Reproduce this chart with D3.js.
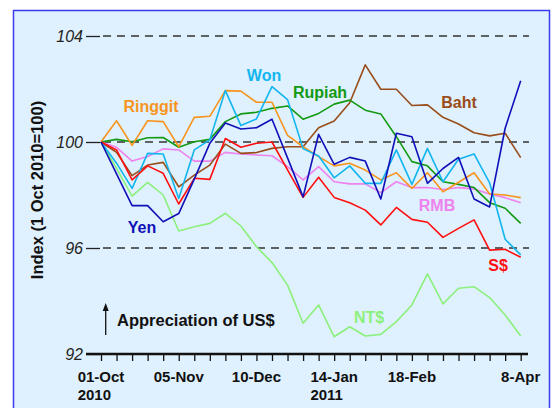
<!DOCTYPE html>
<html>
<head>
<meta charset="utf-8">
<script src="https://cdn.jsdelivr.net/npm/d3@7"></script>
<style>
  body { margin: 0; background: #fff; }
  svg { display: block; font-family: Arial, "Liberation Sans", sans-serif; }
</style>
</head>
<body>
<div id="chart"></div>
<script>
// weekly index, 01-Oct 2010 .. 8-Apr 2011 (28 weeks)
var weeks = d3.range(28);
var xLabels = [[0, '01-Oct', '2010'], [5, '05-Nov'], [10, '10-Dec'], [15, '14-Jan', '2011'], [20, '18-Feb'], [27, '8-Apr']];
var yTicks = [92, 96, 100, 104];

var ringgit = [100, 100.8, 99.87, 100.8, 100.77, 99.82, 100.93, 100.97, 101.94, 101.92, 101.5, 101.5, 100.25, 99.82, 99.45, 99.1, 99.2, 98.94, 98.57, 98.84, 98.25, 98.84, 98.12, 98.48, 98.84, 98.04, 98.0, 97.9];
var won = [100, 99.2, 98.25, 99.57, 99.55, 97.87, 99.7, 100.08, 101.94, 100.62, 100.87, 102.09, 101.6, 99.75, 99.47, 98.65, 99.1, 98.44, 98.44, 99.7, 98.4, 99.76, 98.5, 99.35, 99.55, 98.46, 96.33, 95.74];
var rupiah = [100, 100.1, 100.01, 100.16, 100.17, 99.8, 100.01, 100.1, 100.77, 101.06, 101.12, 101.27, 101.36, 100.86, 101.08, 101.43, 101.58, 101.2, 101.06, 100.2, 99.26, 99.1, 98.5, 98.4, 98.28, 97.71, 97.5, 96.93];
var baht = [100, 99.61, 98.73, 99.13, 99.23, 98.31, 98.75, 99.13, 99.92, 99.57, 99.6, 99.76, 99.82, 99.82, 100.54, 100.79, 101.48, 102.91, 101.99, 101.99, 101.38, 101.4, 100.93, 100.68, 100.35, 100.23, 100.33, 99.41];
var rmb = [100, 99.8, 99.28, 99.45, 99.74, 99.7, 99.28, 99.28, 99.61, 99.55, 99.51, 99.48, 99.07, 98.57, 99.07, 98.5, 98.42, 98.42, 98.09, 98.5, 98.28, 98.28, 98.21, 98.28, 98.23, 98.04, 97.9, 97.71];
var yen = [100, 98.8, 97.6, 97.6, 96.99, 97.3, 98.6, 99.95, 100.72, 100.49, 100.54, 100.86, 99.4, 97.93, 100.29, 99.16, 99.42, 99.28, 97.85, 100.33, 100.2, 98.44, 99.0, 99.42, 97.85, 97.55, 100.52, 102.31];
var sgd = [100, 99.7, 98.57, 99.1, 98.82, 97.66, 98.63, 98.59, 100.13, 99.8, 99.95, 100.0, 98.95, 97.91, 98.67, 97.91, 97.71, 97.43, 96.87, 97.53, 97.08, 96.97, 96.4, 96.74, 97.06, 95.92, 95.95, 95.65];
var ntd = [100, 99.0, 97.96, 98.48, 98.0, 96.64, 96.8, 96.93, 97.31, 96.83, 96.05, 95.45, 94.6, 93.16, 93.85, 92.65, 93.03, 92.68, 92.74, 93.22, 93.85, 95.02, 93.89, 94.48, 94.54, 94.13, 93.47, 92.68];

var W = 553, H = 408;

var series = [
  { name: 'NT$', values: ntd, color: '#8cf07c', lx: 369, ly: 323 },
  { name: 'RMB', values: rmb, color: '#ee82ee', lx: 437, ly: 211 },
  { name: 'Baht', values: baht, color: '#994d1a', lx: 459, ly: 108 },
  { name: 'Rupiah', values: rupiah, color: '#139a13', lx: 320, ly: 98 },
  { name: 'Ringgit', values: ringgit, color: '#f7941d', lx: 151, ly: 112 },
  { name: 'Won', values: won, color: '#12b6ee', lx: 264, ly: 81 },
  { name: 'S$', values: sgd, color: '#ff0f0f', lx: 498, ly: 271 },
  { name: 'Yen', values: yen, color: '#1010b8', lx: 142, ly: 233 }
];

var x = d3.scaleLinear().domain([0, 27]).range([101, 520.7]);
var y = d3.scaleLinear().domain([92, 104]).range([354, 36]);

var svg = d3.select('#chart').append('svg')
  .attr('width', W)
  .attr('height', H);

// panel background
svg.append('rect')
  .attr('x', 13.5).attr('y', 10.5)
  .attr('width', 536).attr('height', 410)
  .attr('fill', '#dff0fe')
  .attr('stroke', '#3b3bf5')
  .attr('stroke-width', 1.5);

// dashed gridlines
svg.append('g').selectAll('line')
  .data(yTicks.filter(function(d) { return d !== 92; }))
  .enter().append('line')
    .attr('x1', 103).attr('x2', 529)
    .attr('y1', function(d) { return y(d); })
    .attr('y2', function(d) { return y(d); })
    .attr('stroke', '#333')
    .attr('stroke-width', 1.3)
    .attr('stroke-dasharray', '8,6');

// y axis (ticks + labels only)
var yAxis = svg.append('g')
  .attr('transform', 'translate(100,0)')
  .call(d3.axisLeft(y).tickValues(yTicks).tickSize(14).tickPadding(3).tickFormat(d3.format('d')));
yAxis.select('.domain').remove();
yAxis.selectAll('.tick line').attr('stroke', '#222').attr('stroke-width', 1.3);
yAxis.selectAll('.tick text')
  .attr('font-size', 16)
  .attr('font-style', 'italic')
  .attr('font-family', 'Arial, "Liberation Sans", sans-serif')
  .attr('fill', '#222');

// x axis
var xAxis = svg.append('g')
  .attr('transform', 'translate(0,' + y(92) + ')')
  .call(d3.axisBottom(x).tickValues(weeks).tickSize(7).tickFormat(''));
xAxis.select('.domain').remove();
xAxis.selectAll('.tick line').attr('stroke', '#111').attr('stroke-width', 1.3);
svg.append('line')
  .attr('x1', 86).attr('x2', 528)
  .attr('y1', y(92)).attr('y2', y(92))
  .attr('stroke', '#111').attr('stroke-width', 2.5);

// x labels
var xl = svg.append('g').attr('font-weight', 'bold').attr('font-size', 15).attr('fill', '#111');
xLabels.forEach(function(l) {
  var t = xl.append('text')
    .attr('x', x(l[0]))
    .attr('y', 382)
    .attr('text-anchor', 'middle')
    .text(l[1]);
  if (l[2]) {
    var w = t.node().getComputedTextLength();
    xl.append('text')
      .attr('x', x(l[0]) - w / 2)
      .attr('y', 400)
      .text(l[2]);
  }
});

// lines
var line = d3.line()
  .x(function(d, i) { return x(i); })
  .y(function(d) { return y(d); });

series.forEach(function(s) {
  svg.append('path')
    .datum(s.values)
    .attr('fill', 'none')
    .attr('stroke', s.color)
    .attr('stroke-width', 1.6)
    .attr('stroke-linejoin', 'round')
    .attr('d', line);
});

// series labels
series.forEach(function(s) {
  svg.append('text')
    .attr('x', s.lx)
    .attr('y', s.ly)
    .attr('text-anchor', 'middle')
    .attr('font-size', 16)
    .attr('font-weight', 'bold')
    .attr('fill', s.color)
    .text(s.name);
});

// y title
svg.append('text')
  .attr('transform', 'translate(43,190) rotate(-90)')
  .attr('text-anchor', 'middle')
  .attr('font-size', 16.5)
  .attr('font-weight', 'bold')
  .attr('fill', '#111')
  .text('Index (1 Oct 2010=100)');

// appreciation note
svg.append('line')
  .attr('x1', 105.7).attr('x2', 105.7)
  .attr('y1', 335).attr('y2', 308)
  .attr('stroke', '#111').attr('stroke-width', 1.3);
svg.append('path')
  .attr('d', 'M105.7,303 L102.7,311 L108.7,311 Z')
  .attr('fill', '#111');
svg.append('text')
  .attr('x', 117).attr('y', 326)
  .attr('font-size', 16.5)
  .attr('font-weight', 'bold')
  .attr('fill', '#111')
  .text('Appreciation of US$');
</script>
</body>
</html>
